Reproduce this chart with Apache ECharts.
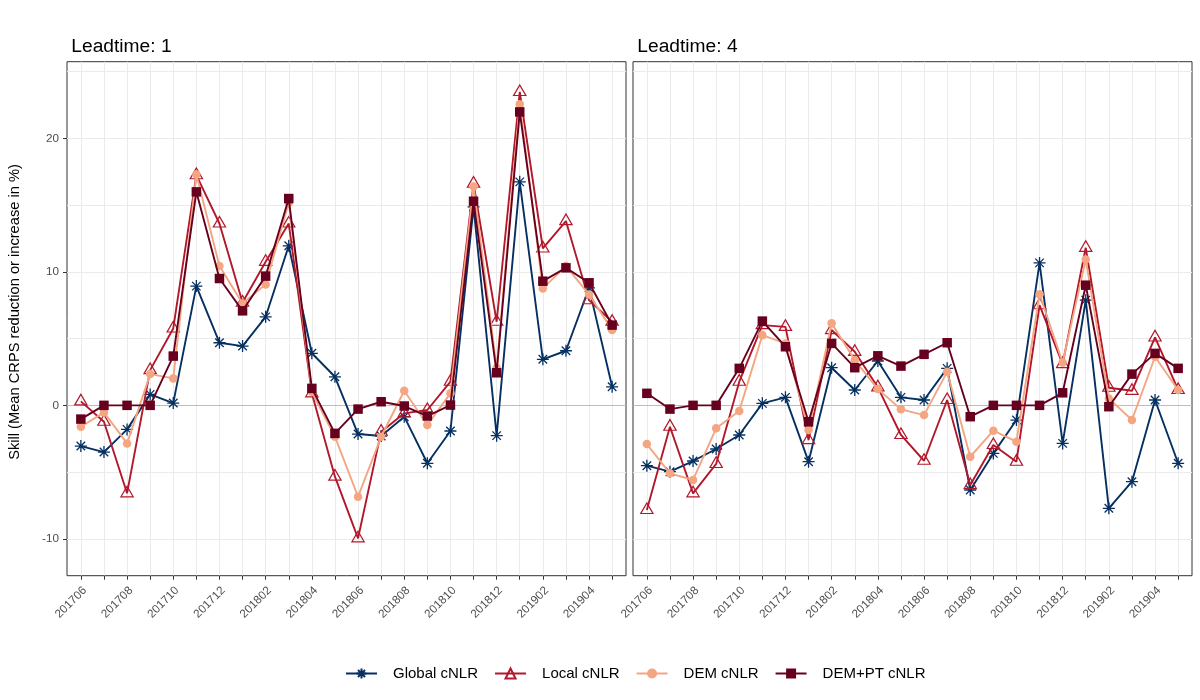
<!DOCTYPE html>
<html>
<head>
<meta charset="utf-8">
<script src="https://cdn.jsdelivr.net/npm/echarts@6/dist/echarts.min.js"></script>
<style>
html,body{margin:0;padding:0;background:#fff;}
#chart{width:1200px;height:700px;}
</style>
</head>
<body>
<div id="chart"></div>
<script>
const months = ['201706','201707','201708','201709','201710','201711','201712','201801','201802','201803','201804','201805','201806','201807','201808','201809','201810','201811','201812','201901','201902','201903','201904','201905'];
const yTickLabels = [-10, 0, 10, 20];
const yGridValues = [-10, -5, 0, 5, 10, 15, 20, 25];
const panelTitles = ['Leadtime: 1', 'Leadtime: 4'];
const seriesNames = ['Global cNLR', 'Local cNLR', 'DEM cNLR', 'DEM+PT cNLR'];

// Leadtime 1
const global1 = [-3.05, -3.5, -1.8, 0.82, 0.17, 8.93, 4.69, 4.44, 6.63, 11.95, 3.9, 2.14, -2.15, -2.3, -0.85, -4.34, -1.92, 14.87, -2.27, 16.74, 3.45, 4.09, 8.8, 1.39];
const local1 = [0.3, -1.23, -6.59, 2.64, 5.76, 17.24, 13.62, 7.7, 10.75, 13.62, 0.9, -5.34, -9.96, -1.97, -0.6, -0.35, 1.77, 16.6, 6.26, 23.47, 11.75, 13.8, 7.88, 6.26];
const dem1 = [-1.6, -0.53, -2.85, 2.34, 2.02, 17.29, 10.43, 7.63, 9.06, 15.17, 1.0, -2.35, -6.84, -2.35, 1.09, -1.47, 0.9, 16.4, 2.8, 22.55, 8.76, 10.43, 8.31, 5.64];
const dempt1 = [-1.03, 0, 0, 0, 3.69, 15.99, 9.5, 7.08, 9.68, 15.49, 1.27, -2.1, -0.28, 0.27, -0.05, -0.8, 0.02, 15.29, 2.44, 21.98, 9.3, 10.3, 9.18, 6.01];

// Leadtime 4
const global4 = [-4.52, -4.97, -4.17, -3.27, -2.22, 0.15, 0.6, -4.22, 2.82, 1.15, 3.32, 0.6, 0.4, 2.77, -6.34, -3.6, -1.1, 10.67, -2.85, 7.88, -7.71, -5.72, 0.4, -4.34];
const local4 = [-7.84, -1.6, -6.59, -4.39, 1.77, 6.01, 5.88, -2.6, 5.64, 4.01, 1.35, -2.22, -4.15, 0.4, -5.97, -2.97, -4.22, 7.5, 3.09, 11.8, 1.32, 1.09, 5.09, 1.15];
const dem4 = [-2.9, -5.09, -5.59, -1.72, -0.43, 5.26, 4.64, -1.85, 6.14, 3.39, 1.22, -0.3, -0.73, 2.51, -3.85, -1.9, -2.72, 8.33, 3.2, 10.92, 0.52, -1.1, 3.64, 1.15];
const dempt4 = [0.9, -0.28, 0, 0, 2.77, 6.31, 4.39, -1.23, 4.64, 2.82, 3.71, 2.94, 3.82, 4.69, -0.85, 0, 0, 0, 0.94, 9.0, -0.1, 2.34, 3.89, 2.77];

const panels = [[global1, local1, dem1, dempt1], [global4, local4, dem4, dempt4]];

const FONT = 'Liberation Sans, Arial, sans-serif';
const colors = ['#053061', '#B2182B', '#F4A582', '#67001F'];
const STAR = 'path://M0,-1L0,1M-1,0L1,0M-0.707,-0.707L0.707,0.707M-0.707,0.707L0.707,-0.707';
const TRI = 'path://M0,-2L1.732,1L-1.732,1Z';
const symbolDefs = [
  {symbol: STAR, symbolSize: 12, symbolOffset: [0, 0], itemStyle: {color: 'rgba(0,0,0,0)', borderColor: colors[0], borderWidth: 1.3}},
  {symbol: TRI, symbolSize: [12.3, 10.65], symbolOffset: [0, -1.78], itemStyle: {color: 'rgba(0,0,0,0)', borderColor: colors[1], borderWidth: 1.2}},
  {symbol: 'circle', symbolSize: 8.5, symbolOffset: [0, 0], itemStyle: {color: colors[2], borderWidth: 0}},
  {symbol: 'rect', symbolSize: 9.5, symbolOffset: [0, 0], itemStyle: {color: colors[3], borderWidth: 0}}
];

const idx = months.map((m, i) => i);
const labelIdx = idx.filter(i => i % 2 === 0).map(i => i + 0.17);

const Y_MIN = -12.76, Y_MAX = 25.74;
const gridLefts = [67, 633];
const PANEL_W = 559, PANEL_TOP = 61.7, PANEL_H = 514;

const grids = [], xAxes = [], yAxes = [], series = [], graphics = [];
gridLefts.forEach((left, p) => {
  grids.push({left: left, top: PANEL_TOP, width: PANEL_W, height: PANEL_H, show: true,
    borderColor: '#333333', borderWidth: 1, backgroundColor: '#ffffff', containLabel: false});
  xAxes.push({
    type: 'value', gridIndex: p, min: -0.6, max: 23.6, position: 'bottom',
    axisLine: {show: false, onZero: false},
    axisTick: {show: true, length: 4, lineStyle: {color: '#333333', width: 1}, customValues: idx},
    axisLabel: {show: true, rotate: 45, margin: 13, fontSize: 11.7, color: '#4D4D4D', fontFamily: FONT,
      customValues: labelIdx, formatter: v => months[Math.round(v)] || ''},
    splitLine: {show: true, lineStyle: {color: '#EBEBEB', width: 1}}
  });
  // main y axis (ticks/labels)
  yAxes.push({
    type: 'value', gridIndex: p, min: Y_MIN, max: Y_MAX, position: 'left',
    axisLine: {show: false, onZero: false},
    axisTick: {show: p === 0, length: 4, lineStyle: {color: '#333333', width: 1}, customValues: yTickLabels},
    axisLabel: {show: p === 0, margin: 8, fontSize: 11.7, color: '#4D4D4D', fontFamily: FONT, customValues: yTickLabels},
    splitLine: {show: false}
  });
  // grid y axis (major + minor gridlines)
  yAxes.push({
    type: 'value', gridIndex: p, min: Y_MIN, max: Y_MAX, position: 'left', offset: 0,
    axisLine: {show: false, onZero: false},
    axisTick: {show: false, customValues: yGridValues},
    axisLabel: {show: false},
    splitLine: {show: true, lineStyle: {color: '#EBEBEB', width: 1}}
  });
  panels[p].forEach((vals, s) => {
    const sd = symbolDefs[s];
    const ser = {
      type: 'line', name: seriesNames[s], xAxisIndex: p, yAxisIndex: p * 2,
      data: vals.map((v, i) => [i, v]),
      symbol: sd.symbol, symbolSize: sd.symbolSize, symbolOffset: sd.symbolOffset,
      showSymbol: true, showAllSymbol: true,
      itemStyle: sd.itemStyle,
      lineStyle: {color: colors[s], width: 1.9},
      z: 2 + s, animation: false, emphasis: {disabled: true}
    };
    if (s === 0) {
      ser.markLine = {silent: true, z: 1, symbol: ['none', 'none'], label: {show: false},
        lineStyle: {color: '#BDBDBD', width: 1, type: 'solid'}, animation: false,
        data: [{yAxis: 0}]};
    }
    series.push(ser);
  });
  graphics.push({type: 'text', x: left + 4.3, y: 46.5,
    style: {text: panelTitles[p], fill: '#000000', font: '19.2px ' + FONT, align: 'left', verticalAlign: 'middle'}});
});

graphics.push({type: 'text', x: 15, y: 312, rotation: Math.PI / 2,
  style: {text: 'Skill (Mean CRPS reduction or increase in %)', fill: '#000000', font: '14.67px ' + FONT, align: 'center', verticalAlign: 'middle'}});

const chart = echarts.init(document.getElementById('chart'), null, {renderer: 'canvas'});
chart.setOption({
  animation: false,
  backgroundColor: '#ffffff',
  grid: grids,
  xAxis: xAxes,
  yAxis: yAxes,
  legend: {
    data: seriesNames, left: 345, top: 666, orient: 'horizontal', padding: 0,
    itemWidth: 31, itemHeight: 12.5, itemGap: 16,
    textStyle: {fontSize: 15, color: '#000000', fontFamily: FONT, padding: [0, 0, 0, 11]},
    selectedMode: false
  },
  graphic: graphics,
  series: series
});
</script>
</body>
</html>
